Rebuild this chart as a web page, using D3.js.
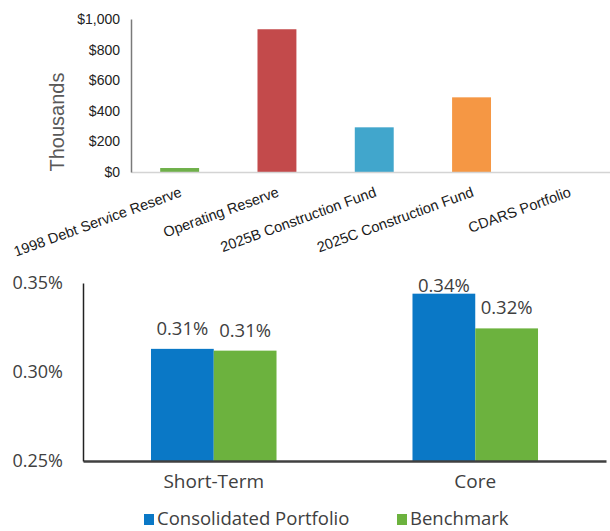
<!DOCTYPE html>
<html>
<head>
<meta charset="utf-8">
<script src="https://cdn.jsdelivr.net/npm/d3@7"></script>
<style>
  body { margin: 0; background: #fff; }
  svg { display: block; }
</style>
</head>
<body>
<script>
// top chart: fund balances (thousands)
const fundNames = ['1998 Debt Service Reserve', 'Operating Reserve', '2025B Construction Fund', '2025C Construction Fund', 'CDARS Portfolio'];
const fundValues = [26, 933, 292, 488, 0];
const fundColors = ['#6fb04a', '#c34a4b', '#41a6cc', '#f59744', '#999'];
const fundTicks = [0, 200, 400, 600, 800, 1000];

// bottom chart: yields (%)
const yieldGroups = ['Short-Term', 'Core'];
const seriesNames = ['Consolidated Portfolio', 'Benchmark'];
const portfolioYields = [0.313, 0.344];
const benchmarkYields = [0.312, 0.3245];
const seriesColors = ['#0a78c6', '#6cb23e'];
const yieldTicks = [0.25, 0.30, 0.35];

let width = 610, height = 531;
let svg = d3.select('body').append('svg').attr('width', width).attr('height', height);

// ---- top chart ----
let xTop = d3.scaleBand(fundNames, [131, 617.5]).paddingInner(0.6).paddingOuter(0.3),
    yTop = d3.scaleLinear([0, 1000], [172, 19]);

let topChart = svg.append('g');

topChart.selectAll('rect')
    .data(d3.zip(fundNames, fundValues, fundColors))
    .join('rect')
    .attr('x', d => xTop(d[0]))
    .attr('width', xTop.bandwidth())
    .attr('y', d => yTop(d[1]))
    .attr('height', d => yTop(0) - yTop(d[1]))
    .style('fill', d => d[2]);

let xAxisTop = topChart.append('g').attr('transform', `translate(0,${yTop(0)})`)
    .call(d3.axisBottom(xTop).tickSize(0));
xAxisTop.select('.domain').attr('stroke', '#d4d4d4').attr('stroke-width', 1.5);
xAxisTop.selectAll('text')
    .attr('text-anchor', 'end')
    .attr('dy', 0)
    .attr('y', 0)
    .attr('transform', 'translate(3,24) rotate(-20)')
    .style('font-family', 'Liberation Sans, Arial, sans-serif')
    .style('font-size', '14.5px')
    .style('fill', '#1a1a1a');

let yAxisTop = topChart.append('g').attr('transform', 'translate(131,0)')
    .call(d3.axisLeft(yTop).tickValues(fundTicks).tickSize(0).tickPadding(11)
        .tickFormat(d => '$' + d3.format(',')(d)));
yAxisTop.select('.domain').attr('stroke', '#7a7a7a').attr('stroke-width', 1.5);
yAxisTop.selectAll('text')
    .style('font-family', 'Liberation Sans, Arial, sans-serif')
    .style('font-size', '14px')
    .style('fill', '#222');

topChart.append('text')
    .attr('transform', 'translate(64,122) rotate(-90)')
    .attr('text-anchor', 'middle')
    .style('font-family', 'Liberation Sans, Arial, sans-serif')
    .style('font-size', '20px')
    .style('fill', '#595959')
    .text('Thousands');

// ---- bottom chart ----
let xBot = d3.scaleBand(yieldGroups, [83, 606]).paddingInner(0.52).paddingOuter(0.26),
    xSub = d3.scaleBand(seriesNames, [0, xBot.bandwidth()]),
    yBot = d3.scaleLinear([0.25, 0.35], [461, 283]);

let botChart = svg.append('g');
let rows = yieldGroups.map((g, i) => [g, [portfolioYields[i], benchmarkYields[i]]]);

let groups = botChart.selectAll('g.grp')
    .data(rows)
    .join('g')
    .attr('class', 'grp')
    .attr('transform', d => `translate(${xBot(d[0])},0)`);

groups.selectAll('rect')
    .data(d => d[1].map((v, j) => [seriesNames[j], v]))
    .join('rect')
    .attr('x', d => xSub(d[0]))
    .attr('width', xSub.bandwidth())
    .attr('y', d => yBot(d[1]))
    .attr('height', d => yBot(0.25) - yBot(d[1]))
    .style('fill', d => seriesColors[seriesNames.indexOf(d[0])]);

groups.selectAll('text')
    .data(d => d[1].map((v, j) => [seriesNames[j], v]))
    .join('text')
    .attr('x', d => xSub(d[0]) + xSub.bandwidth() / 2)
    .attr('y', d => Math.max(yBot(d[1]) - 14, yBot(0.35) + 9))
    .attr('text-anchor', 'middle')
    .style('font-family', 'Open Sans, sans-serif')
    .style('font-size', '18.5px')
    .style('fill', '#404040')
    .text(d => d3.format('.2f')(d[1]) + '%');

let xAxisBot = botChart.append('g').attr('transform', `translate(0,${yBot(0.25)})`)
    .call(d3.axisBottom(xBot).tickSize(0).tickPadding(14));
xAxisBot.select('.domain').attr('stroke', '#404040').attr('stroke-width', 2.5);
xAxisBot.selectAll('text')
    .style('font-family', 'Open Sans, sans-serif')
    .style('font-size', '19px')
    .style('fill', '#404040');

let yAxisBot = botChart.append('g').attr('transform', 'translate(83,0)')
    .call(d3.axisLeft(yBot).tickValues(yieldTicks).tickSize(0).tickPadding(20)
        .tickFormat(d => d3.format('.2f')(d) + '%'));
yAxisBot.select('.domain').attr('stroke', '#222').attr('stroke-width', 1.5);
yAxisBot.selectAll('text')
    .style('font-family', 'Open Sans, sans-serif')
    .style('font-size', '18px')
    .style('fill', '#404040');

// legend
let legendX = d3.scaleOrdinal(seriesNames, [144, 397]);
let legend = botChart.selectAll('g.leg')
    .data(seriesNames)
    .join('g')
    .attr('class', 'leg')
    .attr('transform', d => `translate(${legendX(d)},514)`);
legend.append('rect')
    .attr('width', 10).attr('height', 11)
    .style('fill', (d, i) => seriesColors[i]);
legend.append('text')
    .attr('x', 13).attr('y', 10.5)
    .style('font-family', 'Open Sans, sans-serif')
    .style('font-size', '18.5px')
    .style('fill', '#404040')
    .text(d => d);
</script>
</body>
</html>
